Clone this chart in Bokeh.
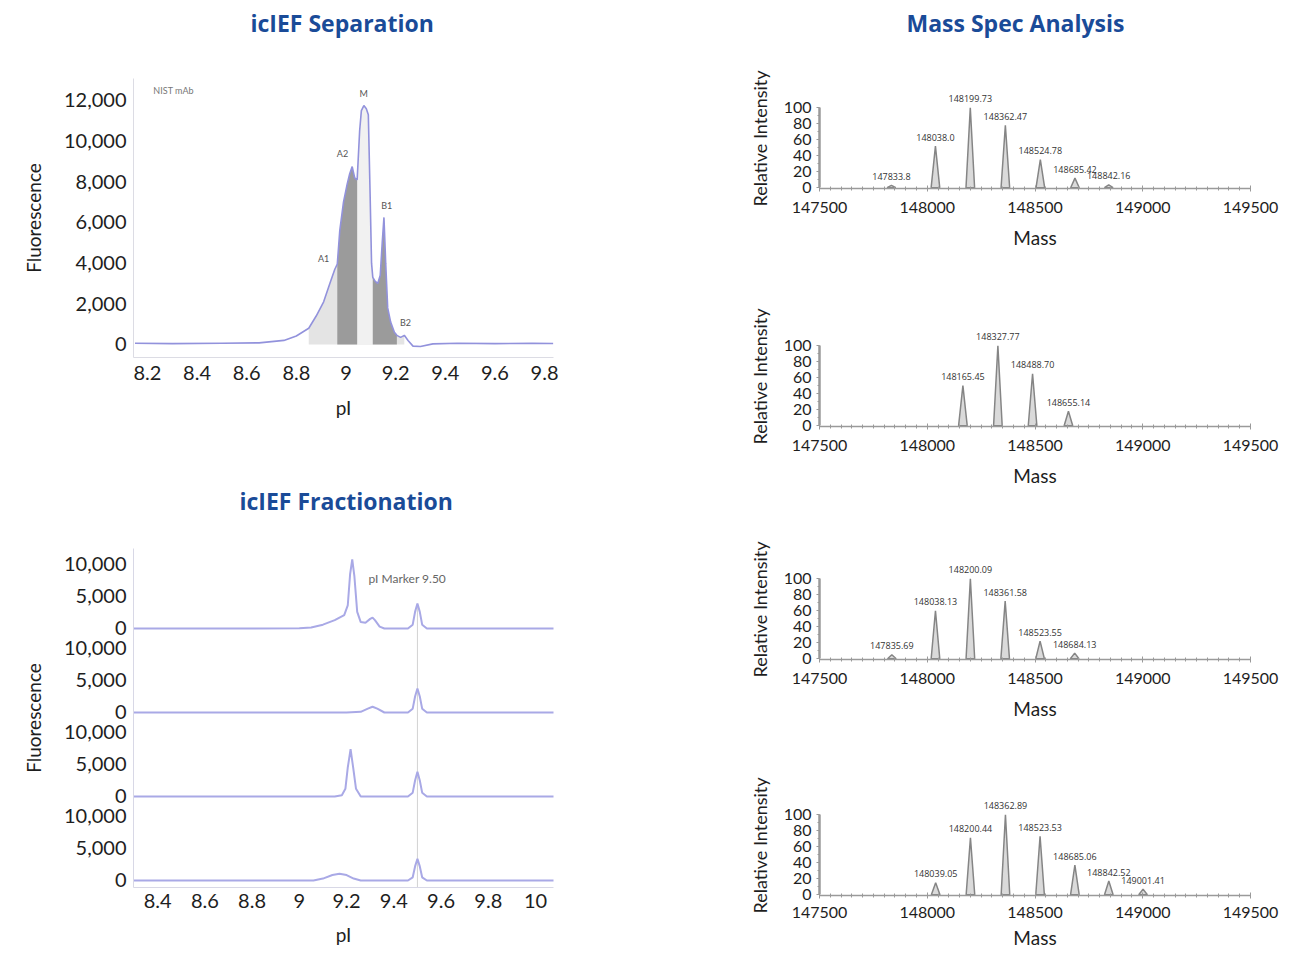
from bokeh.plotting import figure
from bokeh.layouts import row, column
from bokeh.models import (FixedTicker, NumeralTickFormatter, CustomJSTickFormatter,
                          Label, Range1d)
from bokeh.embed import file_html
from bokeh.resources import INLINE

FONT = "Lato"
TITLE_FONT = "Open Sans"
TITLE_COLOR = "#1a4b98"
TEXT_COLOR = "#1e1e1e"
CURVE = "#9292dc"
TRACE = "#a9a9e6"

# ---------------- data: icIEF separation ----------------
sep_pi = [8.15, 8.30, 8.50, 8.65, 8.75, 8.80, 8.85, 8.88, 8.91, 8.935, 8.955, 8.965,
          8.975, 8.99, 9.005, 9.015, 9.025, 9.035, 9.045, 9.055, 9.062, 9.072, 9.082,
          9.090, 9.097, 9.103, 9.108, 9.118, 9.128, 9.138, 9.146, 9.153, 9.160, 9.168,
          9.180, 9.195, 9.205, 9.220, 9.235, 9.250, 9.270, 9.300, 9.350, 9.450, 9.600,
          9.750, 9.835]
sep_fluor = [60, 40, 60, 80, 200, 420, 800, 1400, 2100, 3000, 3700, 3950,
             5600, 7000, 7900, 8400, 8750, 8200, 8100, 10500, 11500, 11750, 11600,
             11300, 7500, 4000, 3300, 3100, 3000, 3400, 5000, 6250, 4000, 1800,
             1100, 600, 450, 350, 450, 200, -80, -100, 30, 60, 40, 60, 50]
sep_peak_names = ["A1", "A2", "M", "B1", "B2"]
sep_peak_pi = [8.91, 8.986, 9.071, 9.164, 9.24]
sep_peak_label_y = [4230, 9400, 12350, 6840, 1080]
sep_light_band = (8.85, 9.235)
sep_main_band = (9.045, 9.108)
sep_dark_bands = [(8.965, 9.045), (9.108, 9.205)]
sep_x_ticks = [8.2, 8.4, 8.6, 8.8, 9.0, 9.2, 9.4, 9.6, 9.8]
sep_y_ticks = [0, 2000, 4000, 6000, 8000, 10000, 12000]

# ---------------- data: icIEF fractionation ----------------
frac_pi_1 = [8.30, 8.70, 9.00, 9.05, 9.10, 9.15, 9.19, 9.205, 9.215, 9.224, 9.233, 9.245,
             9.26, 9.28, 9.30, 9.31, 9.32, 9.34, 9.36, 9.46, 9.48, 9.49, 9.50, 9.51,
             9.52, 9.54, 9.70, 10.08]
frac_f_1 = [0, 0, 30, 150, 600, 1300, 2100, 3600, 8500, 10800, 8200, 2600,
            1000, 900, 1500, 1700, 1300, 300, 0, 0, 600, 2600, 3900, 2600,
            600, 0, 0, 0]
frac_pi_2 = [8.30, 9.20, 9.26, 9.29, 9.31, 9.33, 9.36, 9.46, 9.48, 9.49, 9.50, 9.51,
             9.52, 9.54, 10.08]
frac_f_2 = [0, 0, 100, 600, 900, 600, 0, 0, 600, 2500, 3750, 2500, 600, 0, 0]
frac_pi_3 = [8.30, 9.15, 9.18, 9.195, 9.205, 9.217, 9.228, 9.24, 9.26, 9.46, 9.48,
             9.49, 9.50, 9.51, 9.52, 9.54, 10.08]
frac_f_3 = [0, 0, 200, 1200, 4500, 7400, 4500, 1200, 0, 0, 600, 2500, 3850, 2500,
            600, 0, 0]
frac_pi_4 = [8.30, 9.06, 9.10, 9.14, 9.17, 9.20, 9.23, 9.26, 9.46, 9.48, 9.49, 9.50,
             9.51, 9.52, 9.54, 10.08]
frac_f_4 = [0, 0, 300, 850, 1050, 850, 300, 0, 0, 500, 2200, 3400, 2200, 500, 0, 0]
frac_marker_pi = 9.50
frac_marker_height = 3900
frac_x_ticks = [8.4, 8.6, 8.8, 9.0, 9.2, 9.4, 9.6, 9.8, 10.0]
frac_y_ticks = [0, 5000, 10000]

# ---------------- data: mass spec ----------------
ms1_mass = [147833.8, 148038.0, 148199.73, 148362.47, 148524.78, 148685.42, 148842.16]
ms1_int = [3, 52, 100, 78, 35, 12, 3.5]
ms1_lab = ["147833.8", "148038.0", "148199.73", "148362.47", "148524.78", "148685.42", "148842.16"]

ms2_mass = [148165.45, 148327.77, 148488.70, 148655.14]
ms2_int = [50, 100, 65, 18]
ms2_lab = ["148165.45", "148327.77", "148488.70", "148655.14"]

ms3_mass = [147835.69, 148038.13, 148200.09, 148361.58, 148523.55, 148684.13]
ms3_int = [5, 60, 100, 72, 22, 7]
ms3_lab = ["147835.69", "148038.13", "148200.09", "148361.58", "148523.55", "148684.13"]

ms4_mass = [148039.05, 148200.44, 148362.89, 148523.53, 148685.06, 148842.52, 149001.41]
ms4_int = [15, 71, 100, 73, 37, 17, 7]
ms4_lab = ["148039.05", "148200.44", "148362.89", "148523.53", "148685.06", "148842.52", "149001.41"]

ms_x_ticks = [147500, 148000, 148500, 149000, 149500]
ms_y_ticks = [0, 20, 40, 60, 80, 100]

titles = ["icIEF Separation", "icIEF Fractionation", "Mass Spec Analysis"]

# ---------------- helpers ----------------
one_dec = CustomJSTickFormatter(code="return Number(tick.toFixed(1)).toString();")

# left column: plot frames span page x 133..553 ; right column: 819..1250 (page = 708 + local)
L_BL, L_BR, L_W = 133, 155, 708
R_BL, R_BR, R_W, R_X0 = 111, 60, 602, 708


def base_fig(w, h, xr, yr, bl, br, bt, bb):
    p = figure(width=w, height=h, x_range=Range1d(*xr), y_range=Range1d(*yr),
               output_backend="svg", toolbar_location=None,
               min_border_left=bl, min_border_right=br, min_border_top=bt,
               min_border_bottom=bb)
    p.outline_line_color = None
    p.grid.visible = False
    p.background_fill_color = "white"
    p.border_fill_color = "white"
    for ax in p.axis:
        ax.major_label_text_font = FONT
        ax.major_label_text_color = TEXT_COLOR
        ax.axis_label_text_font = FONT
        ax.axis_label_text_font_style = "normal"
        ax.axis_label_text_color = TEXT_COLOR
    return p


def title_fig(w, h, bl, br, x0, left, cy, text):
    """A heading strip whose x coordinates are page pixels (frame aligned with siblings)."""
    p = figure(width=w, height=h, x_range=Range1d(x0 + bl, x0 + w - br),
               y_range=Range1d(0, h), output_backend="svg", toolbar_location=None,
               min_border_left=bl, min_border_right=br, min_border_top=0,
               min_border_bottom=0)
    p.axis.visible = False
    p.grid.visible = False
    p.outline_line_color = None
    p.text(x=[left], y=[h - cy], text=[text], text_align="left", text_baseline="middle",
           text_font={"value": TITLE_FONT}, text_font_style="bold", text_font_size="23px",
           text_color=TITLE_COLOR)
    return p


# ---------------- figure A: separation ----------------
tA = title_fig(L_W, 44, L_BL, L_BR, 0, 250, 22, titles[0])
pA = base_fig(L_W, 436, (8.144, 9.836), (-640, 13082), L_BL, L_BR, 34, 123)
in_band = lambda lo, hi: [i for i, v in enumerate(sep_pi) if lo - 1e-9 <= v <= hi + 1e-9]
idx = in_band(*sep_light_band)
pA.varea(x=[sep_pi[i] for i in idx], y1=0, y2=[sep_fluor[i] for i in idx], fill_color="#e4e4e4")
idx = in_band(*sep_main_band)
pA.varea(x=[sep_pi[i] for i in idx], y1=0, y2=[sep_fluor[i] for i in idx], fill_color="#f1f1f1")
for lo, hi in sep_dark_bands:
    idx = in_band(lo, hi)
    pA.varea(x=[sep_pi[i] for i in idx], y1=0, y2=[sep_fluor[i] for i in idx], fill_color="#9b9b9b")
pA.line(sep_pi, sep_fluor, line_color=CURVE, line_width=1.6)
pA.text(x=sep_peak_pi, y=sep_peak_label_y, text=sep_peak_names, text_align="center",
        text_baseline="middle", text_font_size="9px", text_color="#555555",
        text_font={"value": FONT})
pA.add_layout(Label(x=8.224, y=12490, text="NIST mAb", text_font=FONT, text_font_size="9px",
                    text_color="#777777", text_baseline="middle"))
pA.xaxis.ticker = FixedTicker(ticks=sep_x_ticks)
pA.xaxis.formatter = one_dec
pA.yaxis.ticker = FixedTicker(ticks=sep_y_ticks)
pA.yaxis.formatter = NumeralTickFormatter(format="0,0")
pA.xaxis.axis_label = "pI"
pA.yaxis.axis_label = "Fluorescence"
for ax in pA.axis:
    ax.major_label_text_font_size = "20px"
    ax.axis_label_text_font_size = "19px"
    ax.axis_line_color = "#dcdce4"
    ax.major_tick_line_color = None
    ax.minor_tick_line_color = None
    ax.major_tick_out = 0
    ax.major_tick_in = 0
    ax.minor_tick_out = 0
    ax.minor_tick_in = 0
pA.xaxis.major_label_standoff = 8
pA.xaxis.axis_label_standoff = 13
pA.yaxis.major_label_standoff = 7
pA.yaxis.axis_label_standoff = 16

# ---------------- figure B: fractionation ----------------
S = 13125
offs = [3 * S, 2 * S, S, 0]
tB = title_fig(L_W, 44, L_BL, L_BR, 0, 239, 20, titles[1])
pB = base_fig(L_W, 429, (8.298, 10.076), (-1094, 51875), L_BL, L_BR, 24, 66)
pB.segment(x0=frac_marker_pi, y0=-1094, x1=frac_marker_pi, y1=offs[0] + frac_marker_height,
           line_color="#d2d2d2", line_width=1)
for xs, ys, off in [(frac_pi_1, frac_f_1, offs[0]), (frac_pi_2, frac_f_2, offs[1]),
                    (frac_pi_3, frac_f_3, offs[2]), (frac_pi_4, frac_f_4, offs[3])]:
    pB.line(xs, [v + off for v in ys], line_color=TRACE, line_width=2)
pB.add_layout(Label(x=9.293, y=offs[0] + 7800, text="pI Marker 9.50", text_font=FONT,
                    text_font_size="12px", text_color="#666666", text_baseline="middle"))
pB.xaxis.ticker = FixedTicker(ticks=frac_x_ticks)
pB.xaxis.formatter = one_dec
pB.yaxis.ticker = FixedTicker(ticks=[o + t for o in offs for t in frac_y_ticks])
pB.yaxis.formatter = CustomJSTickFormatter(args=dict(S=S), code="""
    const k = Math.floor((tick + 0.5) / S);
    const v = Math.round(tick - k * S);
    return v.toLocaleString('en-US');
""")
pB.xaxis.axis_label = "pI"
pB.yaxis.axis_label = "Fluorescence"
for ax in pB.axis:
    ax.major_label_text_font_size = "20px"
    ax.axis_label_text_font_size = "19px"
    ax.axis_line_color = "#d8d8e6"
    ax.major_tick_line_color = None
    ax.minor_tick_line_color = None
    ax.major_tick_out = 0
    ax.major_tick_in = 0
    ax.minor_tick_out = 0
    ax.minor_tick_in = 0
pB.xaxis.major_label_standoff = 6
pB.xaxis.axis_label_standoff = 12
pB.yaxis.major_label_standoff = 7
pB.yaxis.axis_label_standoff = 16

# ---------------- mass spec panels ----------------
HW = 20  # half width of drawn peak, Da


def ms_fig(h, bt, bb, masses, ints, labs, tick_standoff, lab_standoff):
    p = base_fig(R_W, h, (147500, 149500), (-1, 124), R_BL, R_BR, bt, bb)
    p.patches(xs=[[m - HW, m, m + HW] for m in masses],
              ys=[[0, v, 0] for v in ints],
              fill_color="#dadada", line_color="#858585", line_width=1.5)
    p.text(x=masses, y=ints, text=labs, text_align="center", text_baseline="middle",
           y_offset=-9, text_font_size="9px", text_color="#333333",
           text_font={"value": "Open Sans"})
    p.xaxis.ticker = FixedTicker(ticks=ms_x_ticks,
                                 minor_ticks=list(range(147500, 149501, 50)))
    p.xaxis.formatter = NumeralTickFormatter(format="0")
    p.yaxis.ticker = FixedTicker(ticks=ms_y_ticks, minor_ticks=list(range(0, 101, 10)))
    p.xaxis.bounds = (147500, 149500)
    p.yaxis.bounds = (0, 100)
    p.xaxis.axis_label = "Mass"
    p.yaxis.axis_label = "Relative Intensity"
    for ax in p.axis:
        ax.major_label_text_font_size = "16px"
        ax.axis_label_text_font_size = "18px"
        ax.axis_line_color = "#9a9a9a"
        ax.major_tick_line_color = "#9a9a9a"
        ax.minor_tick_line_color = "#9a9a9a"
    p.xaxis.axis_label_text_font_size = "19px"
    p.yaxis.axis_line_width = 2.5
    p.yaxis.major_tick_out = 3
    p.yaxis.major_tick_in = 0
    p.yaxis.minor_tick_out = 2
    p.yaxis.minor_tick_in = 0
    p.yaxis.major_label_standoff = 5
    p.yaxis.axis_label_standoff = 10
    p.xaxis.axis_line_width = 1.5
    p.xaxis.major_tick_out = 3
    p.xaxis.major_tick_in = 3
    p.xaxis.minor_tick_out = 2
    p.xaxis.minor_tick_in = 2
    p.xaxis.major_label_standoff = tick_standoff
    p.xaxis.axis_label_standoff = lab_standoff
    return p


tM = title_fig(R_W, 44, R_BL, R_BR, R_X0, 906, 22, titles[2])
m1 = ms_fig(214, 44, 70, ms1_mass, ms1_int, ms1_lab, 10, 10)
m2 = ms_fig(236, 68, 68, ms2_mass, ms2_int, ms2_lab, 10, 10)
m3 = ms_fig(234, 65, 69, ms3_mass, ms3_int, ms3_lab, 10, 10)
m4 = ms_fig(225, 67, 58, ms4_mass, ms4_int, ms4_lab, 8, 5)

layout = row(column(tA, pA, tB, pB), column(tM, m1, m2, m3, m4))
open("out.html", "w").write(file_html(layout, INLINE))
